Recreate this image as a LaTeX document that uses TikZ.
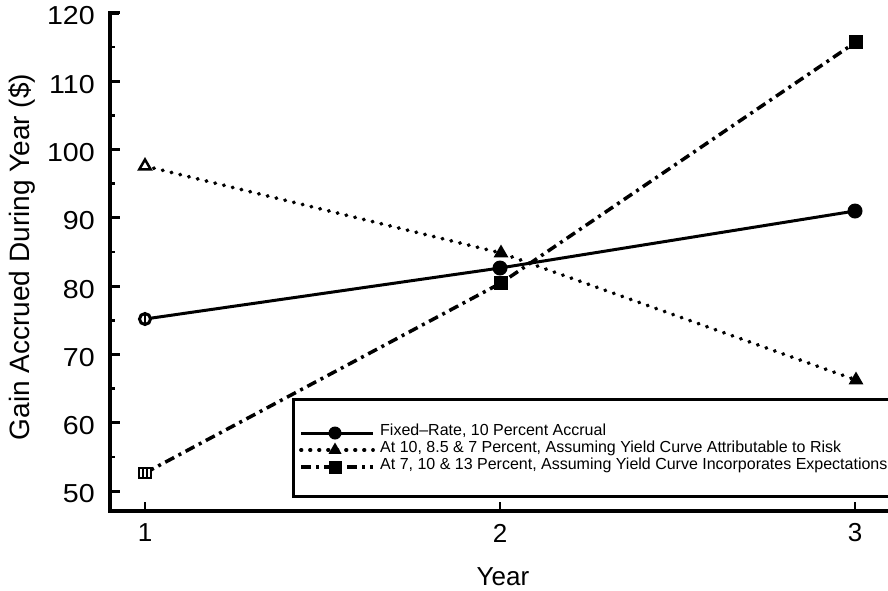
\documentclass[tikz,border=0pt]{standalone}
\usepackage{fontspec}
\setmainfont{Liberation Sans}
\usetikzlibrary{shapes.geometric}
\begin{document}
\begin{tikzpicture}[x=1pt,y=-1pt,
  axisline/.style={line width=3.5pt},
  ticklab/.style={font=\fontsize{26}{26}\selectfont, inner sep=0pt},
  legtext/.style={font=\fontsize{16}{16}\selectfont, inner sep=0pt, anchor=mid west},
  solidser/.style={line width=3pt},
  dotser/.style={line width=3.8pt, line cap=round, dash pattern=on 0.5pt off 8.5pt},
  dashdotser/.style={line width=3.5pt, dash pattern=on 10pt off 5pt on 3pt off 5pt},
  circmark/.style={circle, fill=black, inner sep=0pt, minimum size=15pt},
  trimark/.style={regular polygon, regular polygon sides=3, fill=black, inner sep=0pt, minimum size=17pt},
  sqmark/.style={rectangle, fill=black, inner sep=0pt, minimum size=14pt},
]
\useasboundingbox (0,0) rectangle (888,590);
\clip (0,0) rectangle (888,590);

% axes
\draw[axisline] (119,13) -- (110,13) -- (110,511) -- (900,511);
\foreach \v in {50,60,...,120} {
  \draw[line width=3pt] (110,{491-(\v-50)*6.83}) -- (120,{491-(\v-50)*6.83});
  \node[ticklab, anchor=east] (yl\v) at (95,{494-(\v-50)*6.83}) {\scalebox{1.1}[1]{\v}};
}
\foreach \v in {55,65,...,115} {
  \draw[line width=2.5pt] (110,{491-(\v-50)*6.83}) -- (115,{491-(\v-50)*6.83});
}
\foreach \yr/\xx in {1/145,2/500,3/855} {
  \draw[line width=2.5pt] (\xx,511) -- (\xx,502);
  \node[ticklab] (xl\yr) at (\xx,533) {\yr};
}
\node[ticklab] (xtitle) at (503,577) {Year};
\node[font=\fontsize{28}{28}\selectfont, inner sep=0pt, rotate=90] (ytitle) at (22,257) {Gain Accrued During Year (\$)};

% data coordinates
\coordinate (f1) at (145,319);
\coordinate (f2) at (500,268);
\coordinate (f3) at (855,211);
\coordinate (t1) at (145,166);
\coordinate (t2) at (501,253);
\coordinate (t3) at (856,380);
\coordinate (s1) at (145,473);
\coordinate (s2) at (501,283);
\coordinate (s3) at (856,42);

% legend box
\draw[line width=3pt, fill=white] (293,399) rectangle (900,496);
\node[inner sep=0pt] (legbox) at (596,447) {};

% series lines
\draw[solidser] (f1) -- (f2) -- (f3);
\draw[dotser] (t1) -- (t2) -- (t3);
\draw[dashdotser] (s1) -- (s2) -- (s3);

% markers
\node[circle, draw=black, fill=white, line width=3pt, inner sep=0pt, minimum size=11pt] (mf1) at (f1) {};
\draw[line width=2pt] (145,313) -- (145,325);
\node[circmark] (mf2) at (f2) {};
\node[circmark] (mf3) at (f3) {};
\node[regular polygon, regular polygon sides=3, draw=black, fill=white, line width=2.5pt, inner sep=0pt, minimum size=13pt] (mt1) at (t1) {};
\node[trimark] (mt2) at (t2) {};
\node[trimark] (mt3) at (t3) {};
\node[rectangle, draw=black, fill=white, line width=2.5pt, inner sep=0pt, minimum width=12pt, minimum height=10pt] (ms1) at (s1) {};
\draw[line width=1.8pt] (143,468) -- (143,478) (147,468) -- (147,478);
\node[sqmark] (ms2) at (s2) {};
\node[sqmark] (ms3) at (s3) {};

% legend entries
\coordinate (la) at (301,433); \coordinate (lb) at (373,433);
\coordinate (lc) at (301,450); \coordinate (ld) at (373,450);
\coordinate (le) at (301,467); \coordinate (lf) at (373,467);
\draw[solidser] (la) -- (lb);
\draw[dotser] (lc) -- (ld);
\draw[dashdotser] (le) -- (lf);
\node[circmark, minimum size=13pt] (lm1) at (335,433) {};
\node[trimark, minimum size=15pt] (lm2) at (335,450) {};
\node[sqmark, minimum size=13pt] (lm3) at (335,467) {};
\node[legtext] (lt1) at (380,433) {Fixed--Rate, 10 Percent Accrual};
\node[legtext] (lt2) at (380,450) {At 10, 8.5 \& 7 Percent, Assuming Yield Curve Attributable to Risk};
\node[legtext] (lt3) at (380,467) {At 7, 10 \& 13 Percent, Assuming Yield Curve Incorporates Expectations};
\end{tikzpicture}
\end{document}
